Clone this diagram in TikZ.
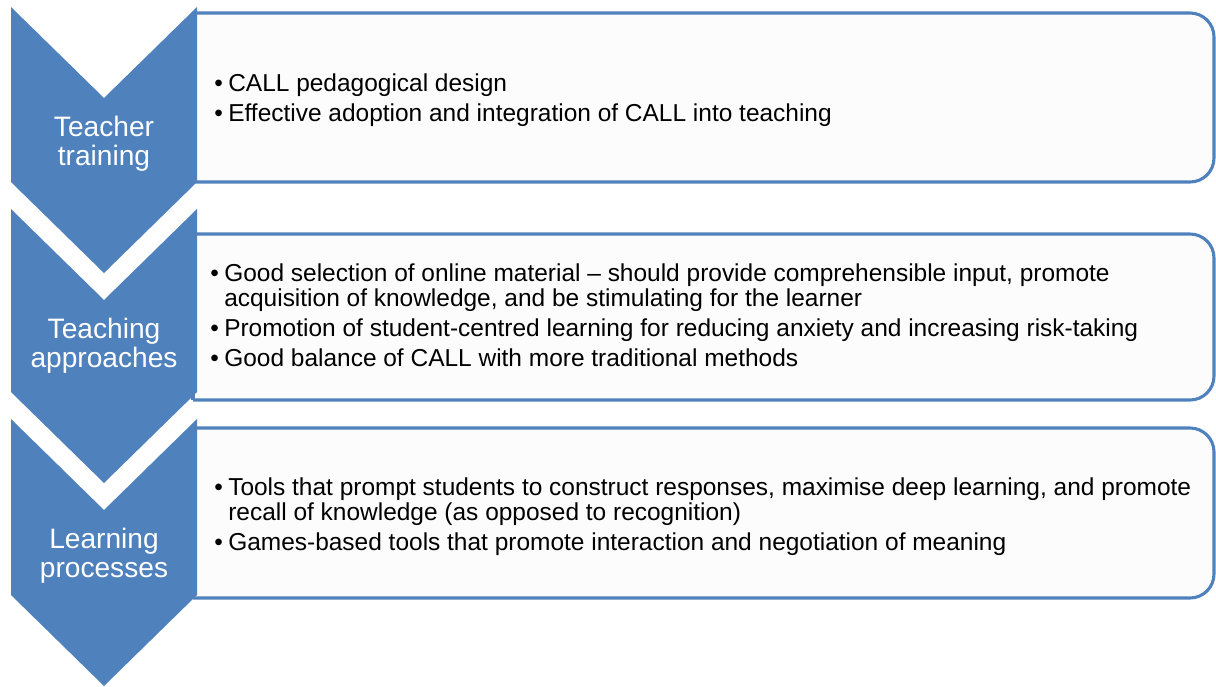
\documentclass[tikz,border=0pt]{standalone}
\usepackage{fontspec}
\setmainfont{Liberation Sans}
\usetikzlibrary{positioning}
\definecolor{chevblue}{RGB}{79,129,189}
\definecolor{boxfill}{RGB}{252,252,252}

\begin{document}
\begin{tikzpicture}
	[   x=0.025cm, y=-0.025cm,
	    chev/.style={fill=chevblue},
	    chevtext/.style={text=white,align=center,inner sep=0pt,font=\fontsize{20pt}{20.6pt}\selectfont},
	    infobox/.style={draw=chevblue,fill=boxfill,line width=2.2pt},
	]
	\tikzset{bullets/.style={anchor=west,inner sep=0pt,font=\fontsize{17.4pt}{17.8pt}\selectfont}}
	\useasboundingbox (0,0) rectangle (1216,686);
	
	% boxes on the right, only right corners rounded
	\foreach \t/\b in {13/182,234/400,428/598}
	{
		\draw[infobox,rounded corners=0.6cm] (193,\t) -- (1214,\t) -- (1214,\b) -- (193,\b);
		\draw[infobox] (193,\t) -- (193,\b);
	}
	
	% chevrons
	\foreach \t/\b/\lab [count=\i] in {7/182/{Teacher\\training},209/392/{Teaching\\approaches},419/595/{Learning\\processes}}
	{
		\fill[chev] (11,\t) -- (104,{\t+91}) -- (197,\t) -- (197,\b) -- (104,{\b+91}) -- (11,\b) -- cycle;
		\node[chevtext] (c-\i) at (104,{\t+137}) {\lab};
	}
	
	\node[bullets] (txt-1) at (214,101) {\begin{tabular}{@{}p{0.35cm}@{}l@{}}
		\textbullet & CALL pedagogical design\\[3.5pt]
		\textbullet & Effective adoption and integration of CALL into teaching
	\end{tabular}};
	
	\node[bullets] (txt-2) at (210,319) {\begin{tabular}{@{}p{0.35cm}@{}l@{}}
		\textbullet & Good selection of online material -- should provide comprehensible input, promote\\
		 & acquisition of knowledge, and be stimulating for the learner\\[3.5pt]
		\textbullet & Promotion of student-centred learning for reducing anxiety and increasing risk-taking\\[3.5pt]
		\textbullet & Good balance of CALL with more traditional methods
	\end{tabular}};
	
	\node[bullets] (txt-3) at (214,518) {\begin{tabular}{@{}p{0.35cm}@{}l@{}}
		\textbullet & Tools that prompt students to construct responses, maximise deep learning, and promote\\
		 & recall of knowledge (as opposed to recognition)\\[3.5pt]
		\textbullet & Games-based tools that promote interaction and negotiation of meaning
	\end{tabular}};
\end{tikzpicture}
\end{document}
